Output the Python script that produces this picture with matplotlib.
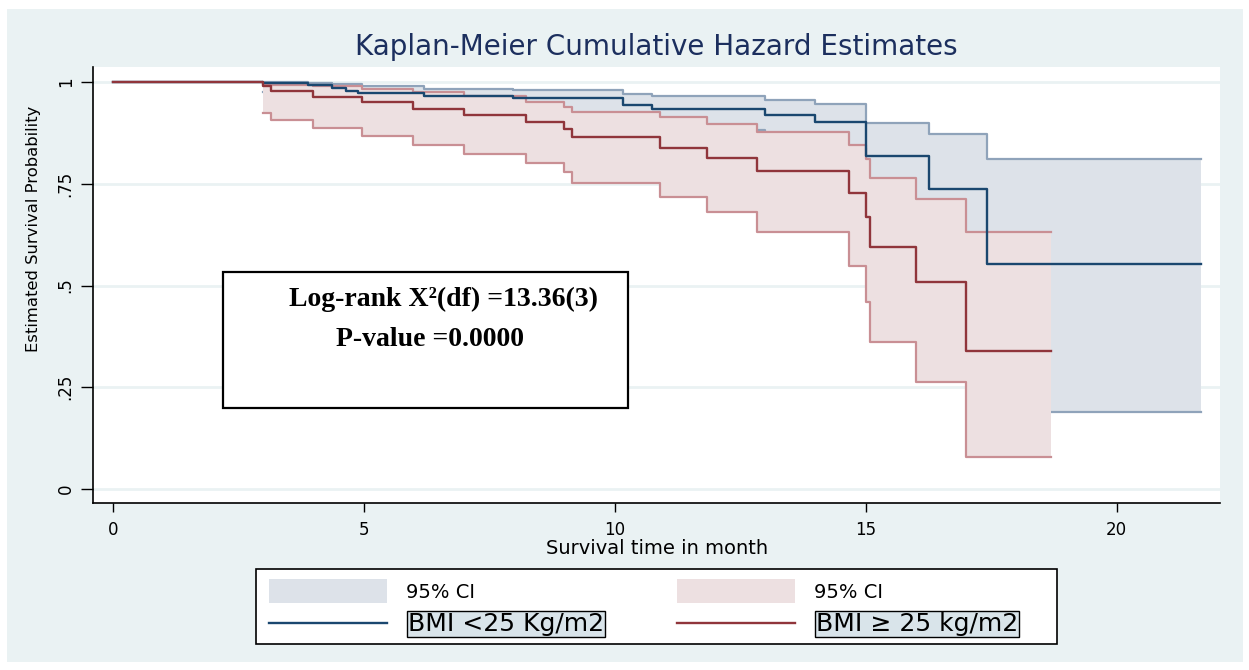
import matplotlib
matplotlib.use("Agg")
import matplotlib.pyplot as plt
from matplotlib.patches import Rectangle
from matplotlib.lines import Line2D

# ---------------- data ----------------
title = "Kaplan-Meier Cumulative Hazard Estimates"
xlabel = "Survival time in month"
ylabel = "Estimated Survival Probability"
xticks = [0, 5, 10, 15, 20]
yticks = [0, 0.25, 0.5, 0.75, 1]
ytick_labels = ["0", ".25", ".5", ".75", "1"]

# BMI < 25
low_t = [0, 3.0, 3.88, 4.37, 4.64, 4.88, 6.2, 7.97, 10.17, 10.75, 13.0, 13.99, 15.0, 16.25, 17.42, 21.68]
low_s = [1, 0.998, 0.993, 0.986, 0.978, 0.972, 0.966, 0.960, 0.943, 0.934, 0.919, 0.901, 0.818, 0.737, 0.553, 0.553]
low_ci_t = [3.0, 3.88, 4.37, 4.97, 6.2, 7.97, 10.17, 10.75, 13.0, 13.99, 15.0, 16.25, 17.42, 21.68]
low_ci_up = [1.0, 0.998, 0.995, 0.990, 0.984, 0.980, 0.971, 0.966, 0.956, 0.946, 0.899, 0.872, 0.810, 0.810]
low_ci_lo = [0.976, 0.966, 0.956, 0.946, 0.935, 0.922, 0.900, 0.882, 0.862, 0.838, 0.700, 0.580, 0.188, 0.188]

# BMI >= 25
high_t = [0, 3.0, 3.15, 3.98, 4.97, 5.99, 6.99, 8.23, 8.98, 9.15, 10.9, 11.83, 12.83, 14.67, 15.0, 15.08, 16.0, 17.0, 18.68]
high_s = [1, 0.991, 0.978, 0.964, 0.950, 0.934, 0.918, 0.901, 0.884, 0.864, 0.839, 0.814, 0.781, 0.728, 0.669, 0.594, 0.509, 0.340, 0.340]
high_ci_t = [3.0, 3.15, 3.98, 4.97, 5.99, 6.99, 8.23, 8.98, 9.15, 10.9, 11.83, 12.83, 14.67, 15.0, 15.08, 16.0, 17.0, 18.68]
high_ci_up = [0.996, 0.993, 0.990, 0.983, 0.975, 0.966, 0.952, 0.939, 0.927, 0.913, 0.896, 0.876, 0.845, 0.811, 0.765, 0.712, 0.631, 0.631]
high_ci_lo = [0.923, 0.907, 0.888, 0.867, 0.845, 0.823, 0.800, 0.778, 0.751, 0.718, 0.681, 0.632, 0.548, 0.460, 0.360, 0.262, 0.079, 0.079]

legend_labels = ["95% CI", "BMI <25 Kg/m2", "95% CI", "BMI \u2265 25 kg/m2"]
stat_line1 = "Log-rank X\u00b2(df) =13.36(3)"
stat_line2 = "P-value =0.0000"

# ---------------- style ----------------
BG = "#eaf2f3"
BLUE = "#1a476f"
RED = "#90353b"
BLUE_FILL = "#dde2e9"
RED_FILL = "#ede0e1"
BLUE_CI = "#8fa3ba"
RED_CI = "#c98f94"
TITLE_C = "#1c2f5e"
LABEL_BOX = "#d9e4ea"

W, H = 1249, 670
fig = plt.figure(figsize=(W / 100, H / 100), dpi=100, facecolor="white")
fig.patches.append(Rectangle((7 / W, 1 - 662 / H), (1243 - 7) / W, (662 - 9) / H,
                             transform=fig.transFigure, facecolor=BG,
                             edgecolor="none", zorder=-10))

L, R, T, B = 93.3, 1220, 67, 503.3
ax = fig.add_axes([L / W, 1 - B / H, (R - L) / W, (B - T) / H])
ax.set_facecolor("white")
ax.set_xlim(-0.388, 22.056)
ax.set_ylim(-0.0351, 1.0369)

# CI bands
ax.fill_between(low_ci_t, low_ci_lo, low_ci_up, step="post", color=BLUE_FILL, lw=0, zorder=1)
ax.step(low_ci_t, low_ci_up, where="post", color=BLUE_CI, lw=1.6, zorder=2)
ax.step(low_ci_t, low_ci_lo, where="post", color=BLUE_CI, lw=1.6, zorder=2)
ax.fill_between(high_ci_t, high_ci_lo, high_ci_up, step="post", color=RED_FILL, lw=0, zorder=3)
ax.step(high_ci_t, high_ci_up, where="post", color=RED_CI, lw=1.6, zorder=4)
ax.step(high_ci_t, high_ci_lo, where="post", color=RED_CI, lw=1.6, zorder=4)
# survival curves
ax.step(low_t, low_s, where="post", color=BLUE, lw=1.7, zorder=5)
ax.step(high_t, high_s, where="post", color=RED, lw=1.7, zorder=6)

# axes styling
for s in ("top", "right"):
    ax.spines[s].set_visible(False)
for s in ("left", "bottom"):
    ax.spines[s].set_color("black")
    ax.spines[s].set_linewidth(1.2)

ax.set_xticks(xticks)
ax.set_xticklabels([str(v) for v in xticks])
ax.set_yticks(yticks)
ax.set_yticklabels(ytick_labels)
ax.tick_params(axis="x", length=6.5, width=1.0, pad=6, labelsize=12, colors="black")
ax.tick_params(axis="y", length=8.4, width=1.0, pad=5, labelsize=12, colors="black")
for lbl in ax.get_yticklabels():
    lbl.set_rotation(90)
    lbl.set_va("center")

ax.yaxis.grid(True, color=BG, lw=2)
ax.set_axisbelow(True)

ax.set_xlabel(xlabel, fontsize=14, va="center")
ax.xaxis.set_label_coords(0.5, -0.1025)
ax.set_ylabel(ylabel, fontsize=11.8, va="center")
ax.yaxis.set_label_coords(-0.0535, (B - 229) / (B - T))

ax.set_title(title, fontsize=20, color=TITLE_C, y=1 + (T - 47) / (B - T),
             va="center", pad=0)

# statistic box
bx0 = (222.7 - L) / (R - L)
bx1 = (628 - L) / (R - L)
by0 = (B - 408) / (B - T)
by1 = (B - 271.7) / (B - T)
ax.add_patch(Rectangle((bx0, by0), bx1 - bx0, by1 - by0, transform=ax.transAxes,
                       facecolor="white", edgecolor="black", lw=1.6, zorder=10))
ax.text((443.9 - L) / (R - L), (B - 299) / (B - T), stat_line1, transform=ax.transAxes,
        ha="center", va="center", fontsize=20, fontweight="bold",
        family="Liberation Serif", zorder=11)
ax.text((429.5 - L) / (R - L), (B - 339.5) / (B - T), stat_line2, transform=ax.transAxes,
        ha="center", va="center", fontsize=20, fontweight="bold",
        family="Liberation Serif", zorder=11)

# legend (built by hand in figure pixel coordinates)
def fx(px):
    return px / W

def fy(py):
    return 1 - py / H

fig.patches.append(Rectangle((fx(256), fy(644)), fx(1057) - fx(256), fy(569) - fy(644),
                             transform=fig.transFigure, facecolor="white",
                             edgecolor="black", lw=1.2, zorder=1))
legend_cols = [
    (269, BLUE_FILL, BLUE, legend_labels[0], legend_labels[1]),
    (677, RED_FILL, RED, legend_labels[2], legend_labels[3]),
]
for x0, fill_c, line_c, ci_lab, grp_lab in legend_cols:
    fig.patches.append(Rectangle((fx(x0), fy(603)), fx(x0 + 118) - fx(x0), fy(579) - fy(603),
                                 transform=fig.transFigure, facecolor=fill_c,
                                 edgecolor="none", zorder=2))
    fig.lines.append(Line2D([fx(x0), fx(x0 + 118)], [fy(623), fy(623)],
                            transform=fig.transFigure, color=line_c, lw=1.7, zorder=2))
    fig.text(fx(x0 + 137), fy(592), ci_lab, ha="left", va="center", fontsize=14, zorder=3)
    fig.text(fx(x0 + 139), fy(624), grp_lab, ha="left", va="center", fontsize=18, zorder=3,
             bbox=dict(facecolor=LABEL_BOX, edgecolor="black", pad=0.6, lw=1))

fig.savefig("out.png", dpi=100, facecolor="white")
